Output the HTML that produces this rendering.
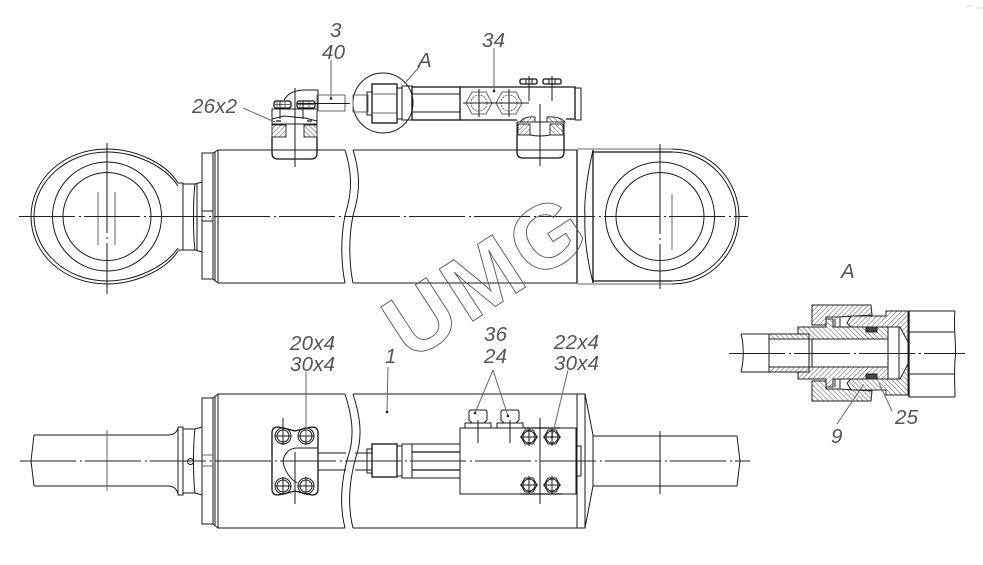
<!DOCTYPE html>
<html><head><meta charset="utf-8"><style>
html,body{margin:0;padding:0;background:#fff}
svg{display:block}
.l{fill:none;stroke:#1a1a1a;stroke-width:1}
.h{stroke-width:1.3;stroke:#111;fill:none}
.g{fill:none;stroke:#666;stroke-width:1}
.c{fill:none;stroke:#222;stroke-width:1;stroke-dasharray:56 4 2 3}
.t{font-family:"Liberation Sans",sans-serif;font-style:italic;font-size:20.500px;fill:#555;letter-spacing:.2px}
</style></head><body>
<svg width="983" height="565" viewBox="0 0 983 565" xmlns="http://www.w3.org/2000/svg">
<defs>
<pattern id="a" width="3.500" height="3.500" patternUnits="userSpaceOnUse" patternTransform="rotate(45)"><rect width="3.500" height="3.500" fill="#fff"/><line x1="0" y1="0" x2="0" y2="3.500" stroke="#555" stroke-width="1"/></pattern>
<pattern id="b" width="3.500" height="3.500" patternUnits="userSpaceOnUse" patternTransform="rotate(-45)"><rect width="3.500" height="3.500" fill="#fff"/><line x1="0" y1="0" x2="0" y2="3.500" stroke="#555" stroke-width="1"/></pattern>
<g id="half" stroke="#222" stroke-width="1">
<path d="M812 305H871L872 315L838 317H826V325H812Z" fill="url(#a)"/>
<path d="M798 327H826V319H833V327H888V339H815L809 339V334H798Z" fill="url(#b)"/>
<path d="M847 323L851 316H886V311H908V342L900 327H851Z" fill="url(#a)"/>
<rect x="866" y="327" width="11" height="5" fill="#444"/>
<rect x="769" y="334" width="40" height="5" fill="url(#b)"/>
<path d="M741 334H809M835 319V327M840 317V327" fill="none"/>
<path d="M888 339V353M899 327V353M908 311V353" fill="none"/>
</g>
</defs>
<rect width="983" height="565" fill="#fff"/>

<!-- TOP VIEW -->
<path class="l" d="M178 183C166 163 135 149 107 149C63 149 31 180 31 216.500C31 253 63 284 107 284C135 284 166 270 178 251"/>
<path class="l" d="M178 186C165 166 135 152 107 152C66 152 34 182 34 216.500C34 251 66 281 107 281C135 281 165 267 178 248"/>
<circle class="l" cx="107" cy="216.500" r="54.500"/>
<circle class="l" cx="107" cy="216.500" r="44"/>
<path class="g" d="M98 192V245M115 192V245"/>
<path class="l" d="M107 143V294" stroke-dasharray="90 4 2 4"/>
<path class="l" d="M178 183H183V250H178M183 184H195C193 200 193 235 195 250H183M195 184L202 182M195 250L202 252M197 184V250"/>
<rect class="l" x="202" y="153" width="11" height="126"/>
<path class="l" d="M202 211H213M202 221H213"/>
<path class="l" d="M213 153L218 150H345M213 279L218 283H345M215 152V281M218 150V283"/>
<path class="l" d="M345 150C352 172 352 190 347 208C341 228 340 258 345 283"/>
<path class="l" d="M353 150C360 172 360 190 355 208C349 228 348 258 353 283"/>
<path class="l" d="M353 150H577M353 283H577"/>
<path class="h" d="M577 150V283M593 150V283"/>
<path class="l" d="M593 150C586 180 584 205 585 216C584 235 587 260 593 283"/>
<path class="h" d="M593 152H672M593 281H672"/>
<path class="g" d="M577 149H672M577 284H672"/>
<path class="l" d="M672 149C712 149 739 182 739 216.500C739 251 712 284 672 284"/>
<path class="l" d="M672 152C709 152 736 184 736 216.500C736 249 709 281 672 281"/>
<circle class="l" cx="660" cy="216.500" r="54.500"/>
<circle class="l" cx="660" cy="216.500" r="44"/>
<path class="g" d="M672 194V250"/>
<path class="l" d="M660 144V289" stroke-dasharray="90 4 2 4"/>
<path class="c" d="M19 216.500H748"/>

<!-- left clamp -->
<path class="h" d="M272 137V153Q272 159 278 159H311Q317 159 317 153V137"/>
<path class="l" d="M272 137V109H317V137"/>
<path class="l" d="M272 124H317"/>
<rect x="272" y="125" width="14" height="12" fill="url(#a)" stroke="#333"/>
<rect x="304" y="125" width="13" height="12" fill="url(#b)" stroke="#333"/>
<path class="l" d="M272 119L284 116L305 118L317 121"/>
<rect x="274" y="101" width="17" height="7" rx="2" class="h"/>
<rect x="297" y="101" width="18" height="7" rx="2" class="h"/>
<path class="g" d="M274 104.500H291M297 104.500H315M277 101V108M285 101V108M300 101V108M309 101V108"/>
<path class="l" d="M280 119V101M303 119V101"/>
<path class="l" d="M284 100C288 93 295 90 305 90H318V111"/>
<path class="l" d="M295 88V167"/>
<rect class="g" x="317" y="95" width="28" height="16"/>
<path class="l" d="M297 103.500H350"/>
<path class="h" d="M276 121h5M307 121h5"/>

<!-- fitting A -->
<circle class="l" cx="383" cy="103" r="30"/>
<rect class="g" x="353" y="95" width="15" height="17"/>
<rect class="l" x="367" y="92" width="5" height="23"/>
<rect class="h" x="372" y="84" width="25" height="39"/>
<path class="g" d="M372 94H397M372 113H397"/>
<rect class="l" x="397" y="88" width="5" height="31"/>
<rect class="l" x="402" y="86" width="10" height="34"/>
<rect class="h" x="412" y="87" width="48" height="33"/>
<path class="l" d="M412 94H460M412 112H460"/>
<path class="h" d="M460 87H575V119H566M460 120H517"/>
<path class="l" d="M575 88H581V120H575"/>
<g class="g">
<path d="M466 103L472 92H486L492 103L486 114H472Z"/>
<path d="M496 103L502 92H516L522 103L516 114H502Z"/>
<circle cx="479" cy="103" r="8" stroke-dasharray="2 1"/>
<circle cx="509" cy="103" r="8" stroke-dasharray="2 1"/>
</g>
<path class="l" d="M463 103H529M479 89V117M509 89V117"/>
<rect class="h" x="520" y="79" width="17" height="5" rx="1.500"/>
<rect class="h" x="543" y="79" width="18" height="5" rx="1.500"/>
<path class="l" d="M529 76V101M552 76V101M526 79V84M532 79V84M549 79V84M555 79V84"/>
<!-- right clamp -->
<path class="h" d="M517 135V152Q517 158 523 158H558Q564 158 564 152V135"/>
<path class="l" d="M517 122H564V135M517 122V135"/>
<rect x="518" y="124" width="12" height="11" fill="url(#a)" stroke="#333"/>
<rect x="550" y="124" width="13" height="11" fill="url(#b)" stroke="#333"/>
<path d="M520 122Q524 116 535 117V122Z" fill="url(#a)" stroke="#333"/>
<path d="M547 117Q560 116 565 122H547Z" fill="url(#b)" stroke="#333"/>
<path class="l" d="M530 135Q540 137 550 135"/>
<path class="l" d="M540 104V166"/>

<!-- BOTTOM VIEW -->
<path class="l" d="M34 435H168Q176 435 178 428M34 486H168Q176 486 178 494M34 435L31 461L34 486"/>
<path class="g" d="M107 430V491"/>
<rect class="l" x="178" y="427" width="5" height="68"/>
<path class="l" d="M183 429H195L202 427M183 493H195L202 495M195 429C193 445 193 477 195 493"/>
<circle class="l" cx="190.500" cy="461.500" r="3"/>
<rect class="l" x="202" y="398" width="11" height="126"/>
<path class="g" d="M202 455H213M202 466H213"/>
<path class="l" d="M213 398L218 394H345M213 524L218 528H345M215 397V525M218 394V528"/>
<path class="l" d="M345 394C352 416 354 432 350 450C343 472 338 500 345 528"/>
<path class="l" d="M353 394C360 416 362 432 358 450C351 472 346 500 353 528"/>
<path class="l" d="M353 394H577M353 528H577"/>
<rect class="l" x="577" y="394" width="8" height="134"/>
<path class="l" d="M585 394L593 435V486L585 528"/>
<path class="l" d="M593 436H737M593 486H737" stroke="#555"/>
<path class="l" d="M737 436L740 461L737 486"/>
<path class="l" d="M660 431V494"/>

<!-- lower clamp -->
<path class="h" d="M278 427Q288 429 295 431Q302 429 312 427Q318 427 318 433V489Q318 495 312 495Q302 493 295 491Q288 493 278 495Q272 495 272 489V433Q272 427 278 427Z"/>
<path class="l" d="M318 453H346M318 470H346M355 453H372M355 470H372"/>
<path class="l" d="M318 448H297C288 448 284 455 283 461C284 470 290 479 297 483"/>
<g class="l">
<circle cx="283" cy="436" r="8"/><circle cx="306" cy="436" r="8"/><circle cx="283" cy="486" r="8"/><circle cx="306" cy="486" r="8"/>
<circle cx="283" cy="436" r="6"/><circle cx="306" cy="436" r="6"/><circle cx="283" cy="486" r="6"/><circle cx="306" cy="486" r="6"/>
<path d="M283 418V445M306 426V445M283 477V495M306 477V495M275 436H291M298 436H314M275 486H291M298 486H314M295 452V504"/>
</g>
<!-- lower fitting -->
<rect class="l" x="367" y="449" width="5" height="24"/>
<rect class="h" x="372" y="444" width="25" height="33"/>
<rect class="l" x="397" y="446" width="5" height="30"/>
<rect class="l" x="402" y="444" width="10" height="34"/>
<rect class="l" x="412" y="444" width="48" height="34"/>
<path class="h" d="M412 452H460M412 470H460"/>
<rect class="l" x="460" y="428" width="116" height="66"/>
<rect class="l" x="576" y="446" width="5" height="30"/>
<rect class="l" x="465" y="423" width="26" height="5"/>
<rect class="l" x="497" y="423" width="26" height="5"/>
<path class="l" d="M469 420V412Q469 410 471 410H485Q487 410 487 412V420L484 423H472Z"/>
<path class="l" d="M501 420V412Q501 410 503 410H517Q519 410 519 412V420L516 423H504Z"/>
<path class="l" d="M478 420V443M510 420V443"/>
<g class="l">
<path d="M521 437L525 430H533L537 437L533 444H525Z"/><path d="M544 437L548 430H556L560 437L556 444H548Z"/><path d="M521 485L525 478H533L537 485L533 492H525Z"/><path d="M544 485L548 478H556L560 485L556 492H548Z"/>
<circle cx="529" cy="437" r="6"/><circle cx="552" cy="437" r="6"/><circle cx="529" cy="485" r="6"/><circle cx="552" cy="485" r="6"/>
<path d="M529 428V446M552 428V446M529 476V494M552 476V494M520 437H538M543 437H561M520 485H538M543 485H561"/>
</g>
<path class="h" d="M524 428H560M521 494H562"/>
<path class="l" d="M540 418V504"/>
<path class="c" d="M20 461H750" stroke="#333"/>

<!-- SECTION A -->
<use href="#half"/>
<use href="#half" transform="translate(0,706) scale(1,-1)"/>
<path class="l" d="M741 334C744 345 744 360 741 372M769 334V372M809 334V372M741 372H809"/>
<path class="l" d="M812 339V367M888 339V367M899 327V379"/>
<path class="h" d="M909 311V397"/>
<path class="l" d="M909 311H955M909 397H955M909 332H954M909 374H954"/>
<path class="l" d="M955 311C953 330 957 345 955 360C954 375 955 390 955 397"/>
<path class="c" d="M729 353.500H965"/>

<!-- LEADERS -->
<g class="g" stroke="#555">
<path d="M243 108L275 122"/>
<path d="M331 60V98"/>
<path d="M420 66L405 83"/>
<path d="M494 48V91"/>
<path d="M306 372V436"/>
<path d="M388 367L387 412"/>
<path d="M493 370L475 413M493 370L508 416"/>
<path d="M568 370L552 437"/>
<path d="M864 384L837 424M879 383L892 411"/>
</g>
<g fill="#222">
<circle cx="331" cy="98.500" r="1.300"/><circle cx="494" cy="91" r="1.300"/><circle cx="387" cy="412" r="1.300"/><circle cx="475" cy="413" r="1.300"/><circle cx="508" cy="416" r="1.300"/><circle cx="552" cy="437" r="1.300"/>
</g>

<!-- WATERMARK -->
<text transform="translate(410,362) rotate(-33)" font-family="'Liberation Sans',sans-serif" font-weight="700" font-size="90" letter-spacing="4" fill="none" stroke="#555" stroke-width=".9">UMG</text>

<!-- LABELS -->
<g class="t">
<text x="330" y="37">3</text>
<text x="322" y="59">40</text>
<text x="192" y="113">26x2</text>
<text x="418" y="67">A</text>
<text x="482" y="47">34</text>
<text x="484" y="341">36</text>
<text x="484" y="363">24</text>
<text x="290" y="350">20x4</text>
<text x="290" y="371">30x4</text>
<text x="385" y="363">1</text>
<text x="554" y="349">22x4</text>
<text x="554" y="370">30x4</text>
<text x="841" y="278">A</text>
<text x="895" y="424">25</text>
<text x="831" y="443">9</text>
</g>
<path d="M966 8L970 5L972 7M975 8H983" fill="none" stroke="#ddd" stroke-width="1"/>
</svg>
</body></html>
